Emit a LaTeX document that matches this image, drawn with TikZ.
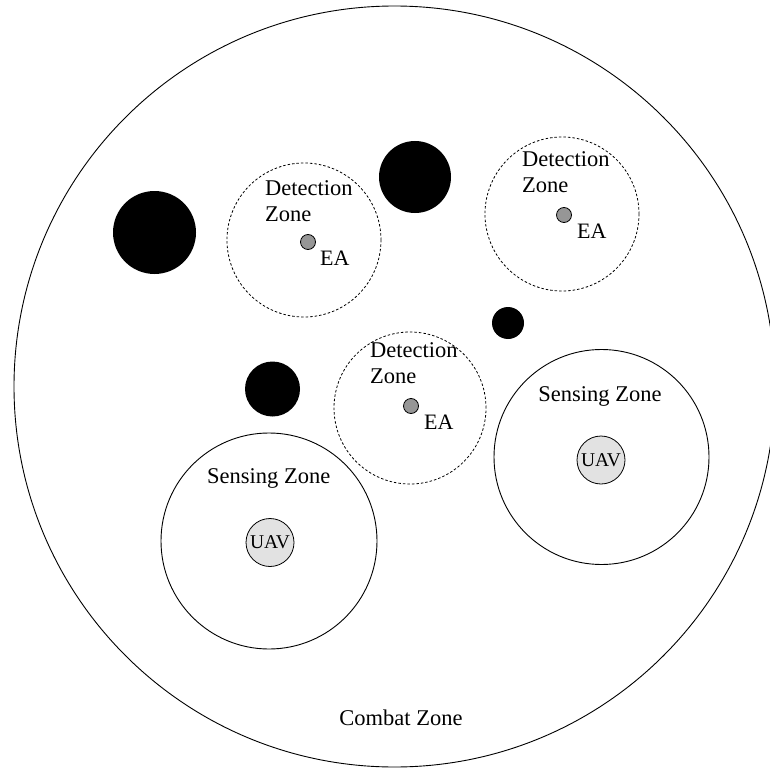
\documentclass[tikz,border=0pt]{standalone}
\usepackage{fontspec}
\setmainfont{Liberation Serif}
\begin{document}
\begin{tikzpicture}[x=1pt,y=-1pt,
  zonecircle/.style={circle,draw,line width=0.9pt,inner sep=0pt,minimum size=#1},
  detcircle/.style={circle,draw,dashed,dash pattern=on 2.5pt off 2pt,line width=0.8pt,inner sep=0pt,minimum size=#1},
  obstacle/.style={circle,fill=black,inner sep=0pt,minimum size=#1},
  eadot/.style={circle,draw,fill=eagray,line width=0.8pt,inner sep=0pt,minimum size=15pt},
  uavnode/.style={circle,draw,fill=uavgray,line width=0.8pt,inner sep=0pt,minimum size=48pt,font=\fontsize{19.5}{22}\selectfont},
  lbl/.style={anchor=base west,inner sep=0pt,font=\fontsize{22.5}{26}\selectfont},
  ealbl/.style={anchor=base west,inner sep=0pt,font=\fontsize{22}{26}\selectfont}]
\definecolor{eagray}{RGB}{150,150,150}
\definecolor{uavgray}{RGB}{226,226,226}
\useasboundingbox (0,0) rectangle (770,770);
% combat zone
\node[zonecircle=761pt] (combat) at (394.5,386.5) {};
\node[anchor=base,inner sep=0pt,font=\fontsize{22.5}{26}\selectfont] (combatlbl) at (401,725) {Combat Zone};
% obstacles
\node[obstacle=83pt] (ob1) at (154.5,232.5) {};
\node[obstacle=72pt] (ob2) at (415,177) {};
\node[obstacle=32pt] (ob3) at (508,323) {};
\node[obstacle=55pt] (ob4) at (272.5,389) {};
% detection zones
\node[detcircle=154pt] (dz1) at (304,240) {};
\node[eadot] (ea1) at (308,242) {};
\node[lbl] (dz1a) at (265,195) {Detection};
\node[lbl] (dz1b) at (265,221) {Zone};
\node[ealbl] (ea1l) at (320,265) {EA};
\node[detcircle=154pt] (dz2) at (562,214) {};
\node[eadot] (ea2) at (564,215) {};
\node[lbl] (dz2a) at (522,167) {Detection};
\node[lbl] (dz2b) at (522,193) {Zone};
\node[ealbl] (ea2l) at (577,238) {EA};
\node[detcircle=152pt] (dz3) at (410,408) {};
\node[eadot] (ea3) at (411,406) {};
\node[lbl] (dz3a) at (370,357) {Detection};
\node[lbl] (dz3b) at (370,383) {Zone};
\node[ealbl] (ea3l) at (424,429) {EA};
% sensing zones
\node[zonecircle=216pt] (sz1) at (269,541) {};
\node[uavnode] (uav1) at (270,542.5) {UAV};
\node[lbl] (sz1l) at (207,483) {Sensing Zone};
\node[zonecircle=215pt] (sz2) at (601.5,457) {};
\node[uavnode] (uav2) at (601,460) {UAV};
\node[anchor=base,inner sep=0pt,font=\fontsize{22.5}{26}\selectfont] (sz2l) at (600,401) {Sensing Zone};
\end{tikzpicture}
\end{document}
